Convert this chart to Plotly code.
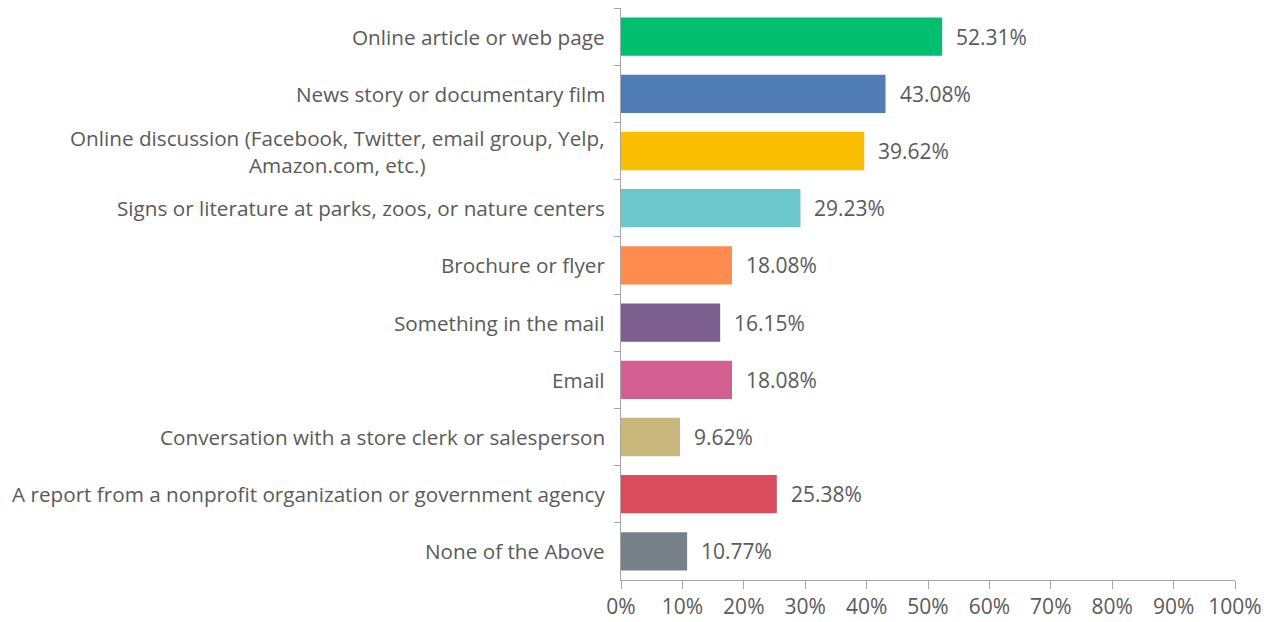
import plotly.graph_objects as go

categories = [
    "Online article or web page",
    "News story or documentary film",
    "Online discussion (Facebook, Twitter, email group, Yelp,<br>Amazon.com, etc.)",
    "Signs or literature at parks, zoos, or nature centers",
    "Brochure or flyer",
    "Something in the mail",
    "Email",
    "Conversation with a store clerk or salesperson",
    "A report from a nonprofit organization or government agency",
    "None of the Above",
]
values = [52.31, 43.08, 39.62, 29.23, 18.08, 16.15, 18.08, 9.62, 25.38, 10.77]
colors = ["#00BF6F", "#507CB6", "#F9BE00", "#6BC8CD", "#FF8B4F",
          "#7D5E90", "#D25F90", "#C9B87C", "#DB4D5C", "#768086"]

FONT = "Open Sans"
GREY = "#5a5a5a"

fig = go.Figure()
fig.add_trace(go.Bar(
    x=values,
    y=categories,
    orientation="h",
    marker=dict(color=colors, line=dict(width=0)),
    hoverinfo="skip",
))

# value labels beside the bars
for c, v in zip(categories, values):
    fig.add_annotation(x=v, y=c, text=f"{v:.2f}%", showarrow=False,
                       xanchor="left", xshift=12,
                       font=dict(family=FONT, size=21, color=GREY))

# category labels (centered multi-line like the original)
for c in categories:
    fig.add_annotation(x=0, xref="paper", y=c, text=c, showarrow=False,
                       xanchor="right", xshift=-14, align="center",
                       font=dict(family=FONT, size=20.7, color=GREY))

# page body has an 8px margin, so the figure is sized to fit
fig.update_layout(
    width=1267, height=614,
    margin=dict(l=613, r=40, t=0, b=42),
    plot_bgcolor="white", paper_bgcolor="white",
    bargap=0.33,
    showlegend=False,
    font=dict(family=FONT, size=20, color=GREY),
)
fig.update_xaxes(
    range=[0, 100], dtick=10, ticksuffix="%",
    showgrid=False, zeroline=False,
    showline=True, linecolor="#a6a6a6", linewidth=1,
    ticks="outside", ticklen=8, tickcolor="#a6a6a6",
    tickfont=dict(family=FONT, size=21, color=GREY),
)
fig.update_yaxes(
    autorange="reversed", showticklabels=False,
    showgrid=False, zeroline=False,
    showline=True, linecolor="#a6a6a6", linewidth=1,
    ticks="outside", ticklen=6, tickcolor="#a6a6a6",
    tickson="boundaries",
)

fig.write_html("out.html")
